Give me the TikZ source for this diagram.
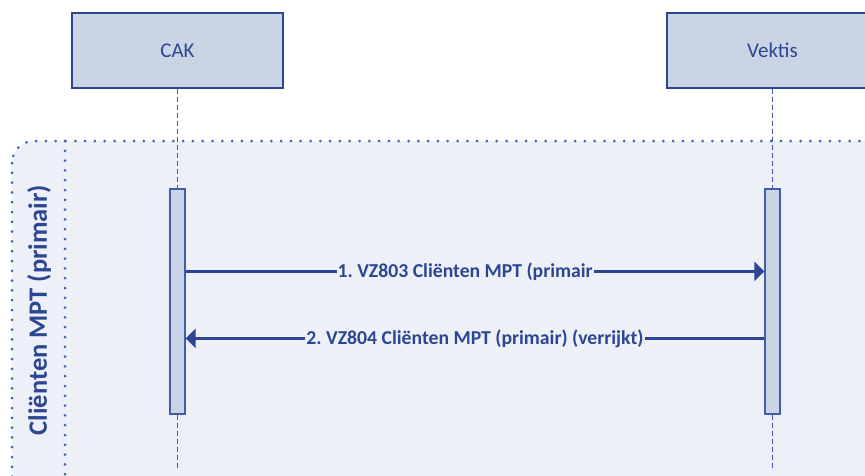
\documentclass[tikz,border=0pt]{standalone}
\usepackage{fontspec}
\setmainfont{Carlito}
\usetikzlibrary{positioning, arrows.meta}
\frenchspacing

\definecolor{seqblue}{HTML}{2C4694}
\definecolor{seqline}{HTML}{3F5DAA}
\definecolor{seqdot}{HTML}{3866B5}
\definecolor{boxfill}{HTML}{C9D5E5}
\definecolor{framefill}{HTML}{EDF0F6}

\begin{document}
\begin{tikzpicture}[x=1pt, y=-1pt, node distance=595pt, on grid,
    actor/.style={draw=seqblue, fill=boxfill, line width=1.2pt, minimum width=211pt, minimum height=75pt, text=seqblue, font=\fontsize{21}{24}\selectfont},
    activation/.style={draw=seqline, fill=boxfill, line width=1.2pt, minimum width=15pt, minimum height=225pt, inner sep=0pt},
    lifeline/.style={seqline, line width=1.2pt, dash pattern=on 5pt off 3pt},
    frameline/.style={seqdot, line width=3pt, line cap=round, dash pattern=on 0pt off 9.8pt},
    msg/.style={seqblue, line width=3.3pt, -{Triangle[length=10pt, width=19pt]}},
    msglabel/.style={fill=framefill, text=seqblue, inner xsep=1pt, inner ysep=2pt, font=\fontsize{19.7}{24}\selectfont\bfseries}]
        \useasboundingbox (0,0) rectangle (865,475);
        \clip (0,0) rectangle (865,475);

        % fragment
        \draw[frameline, fill=framefill, rounded corners=22pt] (12,141) rectangle (930,500);
        \draw[frameline] (65,141) -- (65,490);
        \node[rotate=90, text=seqblue, font=\fontsize{26.5}{30}\selectfont\bfseries] (fraglabel) at (39,310) {Cliënten MPT (primair)};

        % participants
        \node[actor] (cak) at (177.5,50.5) {CAK};
        \node[actor] (vektis) [right=of cak] {Vektis};

        \node[activation] (cakbar) [below=251pt of cak] {};
        \node[activation] (vektisbar) [below=251pt of vektis] {};
        \coordinate[below=417.5pt of cak] (cakend);
        \coordinate[below=417.5pt of vektis] (vektisend);

        \draw[lifeline] (cak) -- (cakbar);
        \draw[lifeline] (cakbar) -- (cakend);
        \draw[lifeline] (vektis) -- (vektisbar);
        \draw[lifeline] (vektisbar) -- (vektisend);

        % messages
        \draw[msg] ([yshift=-83pt]cakbar.north east) -- ([yshift=-83pt]vektisbar.north west)
            node[msglabel, pos=0.483] {1. VZ803 Cliënten MPT (primair};
        \draw[msg] ([yshift=-150pt]vektisbar.north west) -- ([yshift=-150pt]cakbar.north east)
            node[msglabel, midway] {2. VZ804 Cliënten MPT (primair) (verrijkt)};
      \end{tikzpicture}
\end{document}
